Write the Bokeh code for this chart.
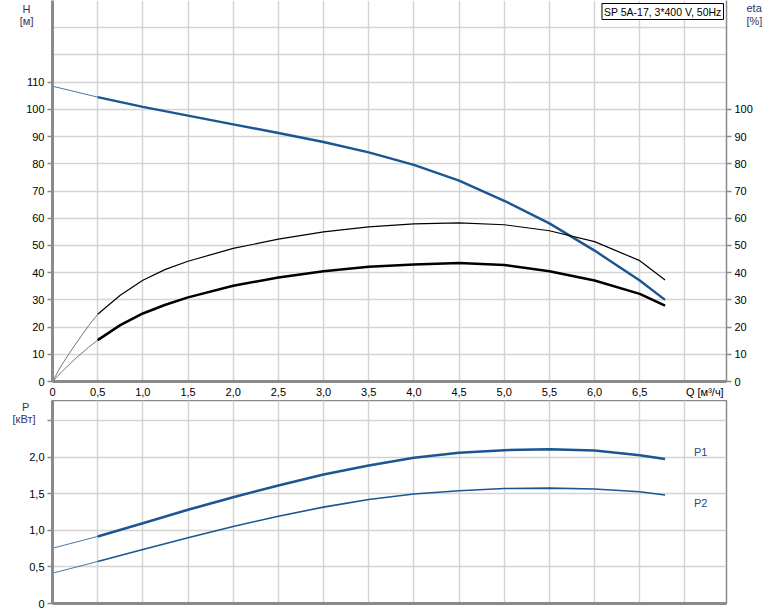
from bokeh.plotting import figure
from bokeh.layouts import column
from bokeh.models import Range1d, FixedTicker, LinearAxis, Label
from bokeh.embed import file_html
from bokeh.resources import INLINE

# ---------------- data ----------------
title_text = "SP 5A-17, 3*400 V, 50Hz"

x_grid = [0, 0.5, 1.0, 1.5, 2.0, 2.5, 3.0, 3.5, 4.0, 4.5, 5.0, 5.5, 6.0, 6.5, 7.0]
x_ticks = [0, 0.5, 1.0, 1.5, 2.0, 2.5, 3.0, 3.5, 4.0, 4.5, 5.0, 5.5, 6.0, 6.5, 7.22]
x_tick_labels = ["0", "0,5", "1,0", "1,5", "2,0", "2,5", "3,0", "3,5", "4,0",
                 "4,5", "5,0", "5,5", "6,0", "6,5", "Q [м³/ч]"]

h_ticks = [0, 10, 20, 30, 40, 50, 60, 70, 80, 90, 100, 110]
eta_ticks = [0, 10, 20, 30, 40, 50, 60, 70, 80, 90, 100]
top_grid = [0, 10, 20, 30, 40, 50, 60, 70, 80, 90, 100, 110, 120, 130, 140]

h_title_pos = [137.0, 132.6]
h_title = ["H\u00a0", "[м]"]
eta_title_pos = [137.4, 132.6]
eta_title = ["eta", "[%]"]

p_ticks = [0, 0.5, 1.0, 1.5, 2.0, 2.5]
p_tick_labels = ["0", "0,5", "1,0", "1,5", "2,0", ""]
p_title_pos = [2.70, 2.52]
p_title = ["P\u00a0\u00a0", "[кВт]"]

# H curve (head, m)
q_h_ext = [0, 0.25, 0.5]
h_ext = [108.5, 106.5, 104.5]
q_h = [0.5, 1.0, 1.5, 2.0, 2.5, 3.0, 3.5, 4.0, 4.5, 5.0, 5.5, 6.0, 6.5, 6.78]
h_val = [104.5, 100.9, 97.7, 94.5, 91.3, 88.0, 84.2, 79.6, 73.8, 66.4, 58.1, 48.1, 37.1, 30.0]

# eta pump (upper thin curve, %)
q_eta1_ext = [0, 0.1, 0.25, 0.4, 0.5]
eta1_ext = [0, 6.0, 13.5, 20.5, 24.7]
q_eta1 = [0.5, 0.75, 1.0, 1.25, 1.5, 2.0, 2.5, 3.0, 3.5, 4.0, 4.5, 5.0, 5.5, 6.0, 6.5, 6.78]
eta1_val = [24.7, 31.7, 37.2, 41.2, 44.2, 48.9, 52.3, 55.0, 56.8, 57.9, 58.3, 57.6, 55.4, 51.4, 44.4, 37.3]

# eta total (lower thick curve, %)
q_eta2_ext = [0, 0.1, 0.25, 0.4, 0.5]
eta2_ext = [0, 3.5, 8.3, 12.6, 15.2]
q_eta2 = [0.5, 0.75, 1.0, 1.25, 1.5, 2.0, 2.5, 3.0, 3.5, 4.0, 4.5, 5.0, 5.5, 6.0, 6.5, 6.78]
eta2_val = [15.2, 20.7, 25.0, 28.2, 30.9, 35.2, 38.2, 40.5, 42.2, 43.0, 43.5, 42.8, 40.5, 37.1, 32.2, 27.9]

# power curves (kW)
q_p_ext = [0, 0.5]
p1_ext = [0.757, 0.918]
p2_ext = [0.415, 0.575]
q_p = [0.5, 1.0, 1.5, 2.0, 2.5, 3.0, 3.5, 4.0, 4.5, 5.0, 5.5, 6.0, 6.5, 6.78]
p1_val = [0.918, 1.10, 1.283, 1.456, 1.616, 1.767, 1.89, 1.996, 2.063, 2.10, 2.114, 2.095, 2.03, 1.98]
p2_val = [0.575, 0.74, 0.90, 1.055, 1.196, 1.32, 1.425, 1.50, 1.545, 1.575, 1.58, 1.568, 1.53, 1.486]

series_labels = ["P1", "P2"]
series_label_pos = [2.07, 1.38]

# ---------------- style ----------------
FONT = "Liberation Sans"
BLUE = "#1b5592"
GRID = "#d4d4d4"
AXIS = "#8a8a8a"
TITLE_C = "#33336b"
X_MAX = 7.46


def style_axis(ax, width=3):
    ax.axis_line_color = AXIS
    ax.axis_line_width = width
    ax.major_tick_line_color = AXIS
    ax.major_tick_line_width = 1.5
    ax.major_tick_out = 5
    ax.major_tick_in = 0
    ax.minor_tick_line_color = None
    ax.major_label_text_font = FONT
    ax.major_label_text_font_size = "11px"
    ax.major_label_text_color = "#000000"
    ax.major_label_standoff = 3


def title_axis(ticks, labels, standoff):
    ax = LinearAxis(ticker=FixedTicker(ticks=ticks))
    ax.major_label_overrides = dict(zip(ticks, labels))
    ax.axis_line_color = None
    ax.major_tick_line_color = None
    ax.minor_tick_line_color = None
    ax.major_tick_out = 0
    ax.major_tick_in = 0
    ax.major_label_standoff = standoff
    ax.major_label_text_font = FONT
    ax.major_label_text_font_size = "11px"
    ax.major_label_text_color = TITLE_C
    return ax


# ---------------- top figure ----------------
p1 = figure(width=774, height=400, output_backend="svg", toolbar_location=None,
            x_range=Range1d(0, X_MAX), y_range=Range1d(0, 140),
            min_border_left=52, min_border_right=48, min_border_top=0,
            min_border_bottom=19)
p1.outline_line_color = None
p1.xgrid.ticker = FixedTicker(ticks=x_grid)
p1.ygrid.ticker = FixedTicker(ticks=top_grid)
for g in (p1.xgrid[0], p1.ygrid[0]):
    g.grid_line_color = GRID
    g.grid_line_width = 1.5

xa = p1.xaxis[0]
style_axis(xa)
xa.ticker = FixedTicker(ticks=x_ticks)
xa.major_label_overrides = dict(zip(x_ticks, x_tick_labels))
xa.major_tick_out = 0
xa.major_label_standoff = 4

ya = p1.yaxis[0]
style_axis(ya)
ya.ticker = FixedTicker(ticks=h_ticks)
p1.add_layout(title_axis(h_title_pos, h_title, -10), "left")

ra = LinearAxis(ticker=FixedTicker(ticks=eta_ticks))
style_axis(ra, width=1.5)
p1.add_layout(ra, "right")
p1.add_layout(title_axis(eta_title_pos, eta_title, -9), "right")

p1.line(q_h_ext, h_ext, line_color=BLUE, line_width=1, line_alpha=0.8)
p1.line(q_h, h_val, line_color=BLUE, line_width=2.4, line_join="round")
p1.line(q_eta1_ext, eta1_ext, line_color="#777777", line_width=1)
p1.line(q_eta1, eta1_val, line_color="#000000", line_width=1.2, line_join="round")
p1.line(q_eta2_ext, eta2_ext, line_color="#777777", line_width=1)
p1.line(q_eta2, eta2_val, line_color="#000000", line_width=2.5, line_join="round")

p1.add_layout(Label(x=X_MAX, y=140, x_offset=-3, y_offset=-3, text=title_text,
                    text_align="right", text_baseline="top", text_font=FONT,
                    text_font_size="10.5px", text_color="#000000",
                    border_line_color="#000000", border_line_width=1,
                    background_fill_color="white", padding=2))

# ---------------- bottom figure ----------------
p2 = figure(width=774, height=211, output_backend="svg", toolbar_location=None,
            x_range=p1.x_range, y_range=Range1d(0, 2.78),
            min_border_left=52, min_border_right=48, min_border_top=0,
            min_border_bottom=8)
p2.outline_line_color = AXIS
p2.outline_line_width = 1.5
p2.xgrid.ticker = FixedTicker(ticks=x_grid)
p2.ygrid.ticker = FixedTicker(ticks=p_ticks)
for g in (p2.xgrid[0], p2.ygrid[0]):
    g.grid_line_color = GRID
    g.grid_line_width = 1.5

xb = p2.xaxis[0]
style_axis(xb)
xb.ticker = FixedTicker(ticks=[])
xb.major_tick_out = 0
xb.major_label_standoff = 0

yb = p2.yaxis[0]
style_axis(yb)
yb.ticker = FixedTicker(ticks=p_ticks)
yb.major_label_overrides = dict(zip(p_ticks, p_tick_labels))
p2.add_layout(title_axis(p_title_pos, p_title, -9), "left")

p2.line(q_p_ext, p1_ext, line_color=BLUE, line_width=1, line_alpha=0.8)
p2.line(q_p, p1_val, line_color=BLUE, line_width=2.5, line_join="round")
p2.line(q_p_ext, p2_ext, line_color=BLUE, line_width=1, line_alpha=0.8)
p2.line(q_p, p2_val, line_color=BLUE, line_width=1.6, line_join="round")

for txt, yy in zip(series_labels, series_label_pos):
    p2.add_layout(Label(x=7.1, y=yy, text=txt, text_align="left",
                        text_baseline="middle", text_font=FONT,
                        text_font_size="11px", text_color="#2a4a7a"))

layout = column(p1, p2, spacing=0)
open("out.html", "w").write(file_html(layout, INLINE))
